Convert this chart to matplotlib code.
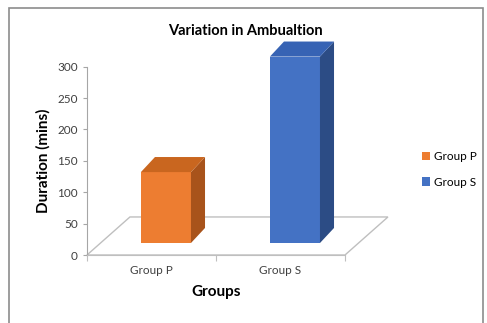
import matplotlib.pyplot as plt
from matplotlib.patches import Polygon, Patch, Rectangle

groups = ['Group P', 'Group S']
durations = [113, 297]
face_colors = ['#ED7D31', '#4472C4']
side_colors = ['#A8531B', '#2C4C85']
top_colors = ['#C9661F', '#3763B4']
yticks = [0, 50, 100, 150, 200, 250, 300]

plt.rcParams['font.family'] = ['Lato', 'DejaVu Sans']

fig = plt.figure(figsize=(4.87, 3.23), dpi=100)
ax = fig.add_axes([0.1786, 0.2105, 0.5298, 0.583])
ax.set_xlim(0, 2)
ax.set_ylim(0, 300)

# outer frame of the chart area
fig.patches.append(Rectangle((9 / 487, -0.05), 474 / 487, 1 - 8 / 323 + 0.05,
                             transform=fig.transFigure, fill=False,
                             edgecolor='#8c8c8c', lw=1.2))

# fake 3d floor
fdx, fdy = 0.333, 60.6
floor = Polygon([(0, 0), (2, 0), (2 + fdx, fdy), (fdx, fdy)], closed=True,
                facecolor='none', edgecolor='#BFBFBF', lw=1, clip_on=False)
ax.add_patch(floor)

# bars with depth
off_x, off_y = 0.112, 19.1
w = 0.388
bdx, bdy = 0.109, 24
for i, (v, fc, sc, tc) in enumerate(zip(durations, face_colors, side_colors, top_colors)):
    x0 = i + 0.5 + off_x - w / 2
    x1 = x0 + w
    ax.bar(x0, v, width=w, bottom=off_y, align='edge', color=fc,
           edgecolor='none', zorder=3, clip_on=False)
    y1 = off_y + v
    side = Polygon([(x1, off_y), (x1 + bdx, off_y + bdy), (x1 + bdx, y1 + bdy), (x1, y1)],
                   closed=True, facecolor=sc, edgecolor='none', zorder=3, clip_on=False)
    top = Polygon([(x0, y1), (x1, y1), (x1 + bdx, y1 + bdy), (x0 + bdx, y1 + bdy)],
                  closed=True, facecolor=tc, edgecolor='none', zorder=3, clip_on=False)
    ax.add_patch(side)
    ax.add_patch(top)

for s in ['top', 'right']:
    ax.spines[s].set_visible(False)
ax.spines['left'].set_color('#A6A6A6')
ax.spines['bottom'].set_color('#BFBFBF')

ax.set_yticks(yticks)
ax.tick_params(axis='y', colors='#A6A6A6', labelcolor='#404040', labelsize=8.5, length=3)
ax.set_xticks([0, 1, 2])
ax.set_xticklabels([])
ax.set_xticks([0.5, 1.5], minor=True)
ax.set_xticklabels(groups, minor=True)
ax.tick_params(axis='x', which='major', colors='#BFBFBF', length=4)
ax.tick_params(axis='x', which='minor', length=0, labelsize=8.5, labelcolor='#404040', pad=7)

ax.set_ylabel('Duration (mins)', fontsize=11, fontweight='bold', labelpad=5)
ax.set_xlabel('Groups', fontsize=11, fontweight='bold', labelpad=7)
fig.text(0.503, 0.905, 'Variation in Ambualtion', ha='center', va='center',
         fontsize=10.5, fontweight='bold')

handles = [Patch(facecolor=c, edgecolor='none') for c in face_colors]
fig.legend(handles, groups, loc='center left', bbox_to_anchor=(0.845, 0.475),
           frameon=False, fontsize=8.5, handlelength=0.7, handleheight=0.7,
           handletextpad=0.3, labelspacing=1.2)

fig.savefig('out.png', dpi=100)
